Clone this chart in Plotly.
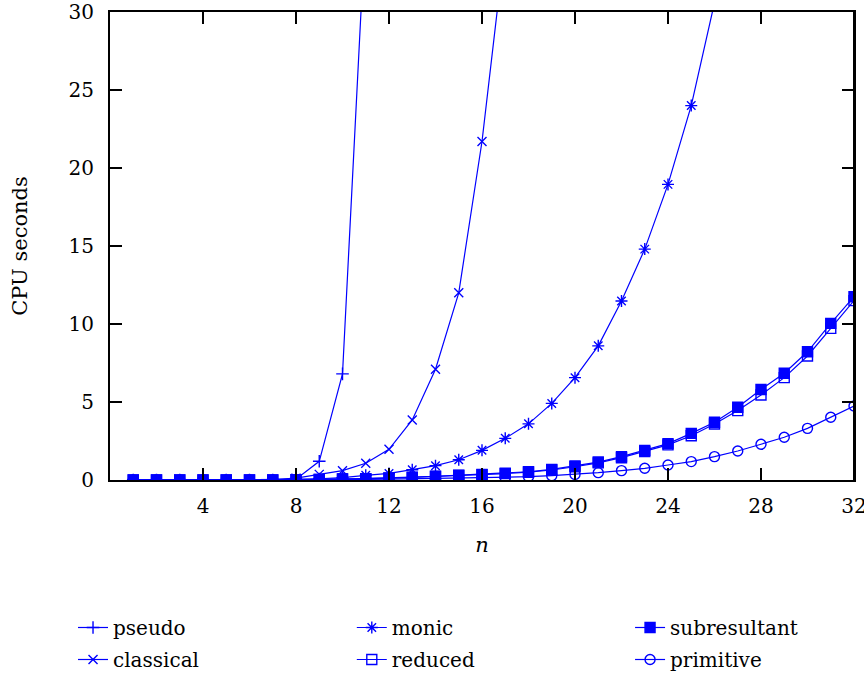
import plotly.graph_objects as go

n = list(range(1, 33))

pseudo = [0, 0, 0, 0, 0, 0, 0, 0.05, 1.2, 6.8, 36.0]
classical = [0, 0, 0, 0, 0, 0, 0.02, 0.12, 0.36, 0.6, 1.07, 1.97, 3.85, 7.1, 12.0, 21.7, 34.5]
monic = [0, 0, 0, 0, 0, 0, 0, 0.03, 0.08, 0.15, 0.3, 0.42, 0.66, 0.92, 1.3, 1.9,
         2.67, 3.6, 4.91, 6.56, 8.6, 11.47, 14.8, 18.95, 24.0, 30.6]
subresultant = [0, 0, 0, 0, 0, 0, 0, 0.02, 0.04, 0.06, 0.09, 0.13, 0.18, 0.24, 0.31, 0.36,
                0.43, 0.53, 0.68, 0.9, 1.15, 1.5, 1.9, 2.33, 2.99, 3.7, 4.66, 5.8, 6.84, 8.22, 10.04, 11.75]
reduced = [0, 0, 0, 0, 0, 0, 0, 0.02, 0.04, 0.06, 0.08, 0.12, 0.17, 0.22, 0.29, 0.34,
           0.41, 0.5, 0.64, 0.85, 1.1, 1.43, 1.82, 2.25, 2.84, 3.59, 4.45, 5.45, 6.56, 7.95, 9.72, 11.5]
primitive = [0, 0, 0, 0, 0, 0, 0, 0.01, 0.02, 0.03, 0.04, 0.05, 0.07, 0.09, 0.12, 0.14,
             0.15, 0.21, 0.28, 0.36, 0.47, 0.6, 0.75, 0.96, 1.18, 1.5, 1.86, 2.29, 2.74, 3.31, 4.02, 4.74]

# (name, values, marker symbol, marker size, legend column)
series = [
    ("pseudo", pseudo, "cross-thin-open", 9, "legend"),
    ("classical", classical, "x-thin-open", 9, "legend"),
    ("monic", monic, "asterisk-open", 10, "legend2"),
    ("reduced", reduced, "square-open", 10, "legend2"),
    ("subresultant", subresultant, "square", 10, "legend3"),
    ("primitive", primitive, "circle-open", 10, "legend3"),
]

xticks = [4, 8, 12, 16, 20, 24, 28, 32]
yticks = [0, 5, 10, 15, 20, 25, 30]

BLUE = "#0000ff"
FONT = "DejaVu Serif"

fig = go.Figure()
for name, vals, sym, size, leg in series:
    fig.add_trace(go.Scatter(
        x=n[:len(vals)], y=vals, name=name, mode="lines+markers",
        line=dict(color=BLUE, width=1.2),
        marker=dict(symbol=sym, size=size, color=BLUE,
                    line=dict(color=BLUE, width=1.4)),
        cliponaxis=True, legend=leg, legendgroup=name,
    ))

leg_common = dict(orientation="v", xanchor="left", y=-0.2735, yanchor="top",
                  font=dict(family=FONT, size=20), itemwidth=30,
                  traceorder="grouped", tracegroupgap=3,
                  bgcolor="rgba(0,0,0,0)")

fig.update_layout(
    width=864, height=676,
    margin=dict(l=110, r=10, t=12, b=196, autoexpand=False),
    paper_bgcolor="white", plot_bgcolor="white",
    font=dict(family=FONT, size=20, color="black"),
    showlegend=True,
    legend=dict(x=-0.0497, **leg_common),
    legend2=dict(x=0.325, **leg_common),
    legend3=dict(x=0.699, **leg_common),
)
# right-hand frame edge of the plot box
fig.add_shape(type="line", xref="paper", yref="paper", x0=1, x1=1, y0=0, y1=1,
              line=dict(color="black", width=2), layer="above")
fig.update_xaxes(
    range=[0, 32], tickvals=xticks, ticktext=[str(v) for v in xticks],
    ticks="inside", ticklen=12, tickwidth=2, tickcolor="black",
    showline=True, linecolor="black", linewidth=2, mirror="ticks",
    showgrid=False, zeroline=False, automargin=False,
    ticklabelstandoff=7, ticklabeloverflow="allow",
    tickfont=dict(family=FONT, size=20),
    title=dict(text="<i>n</i>", font=dict(family=FONT, size=21), standoff=20),
)
fig.update_yaxes(
    range=[0, 30], tickvals=yticks, ticktext=[str(v) for v in yticks],
    ticks="inside", ticklen=12, tickwidth=2, tickcolor="black",
    showline=True, linecolor="black", linewidth=2, mirror="ticks",
    showgrid=False, zeroline=False, automargin=False,
    ticklabelstandoff=10, ticklabeloverflow="allow",
    tickfont=dict(family=FONT, size=20),
    title=dict(text="CPU seconds", font=dict(family=FONT, size=21), standoff=35),
)

fig.write_html(
    "out.html",
    config={"displayModeBar": False},
    post_script=(
        "document.documentElement.style.overflow='hidden';"
        "document.body.style.margin='0';document.body.style.overflow='hidden';"
    ),
)
